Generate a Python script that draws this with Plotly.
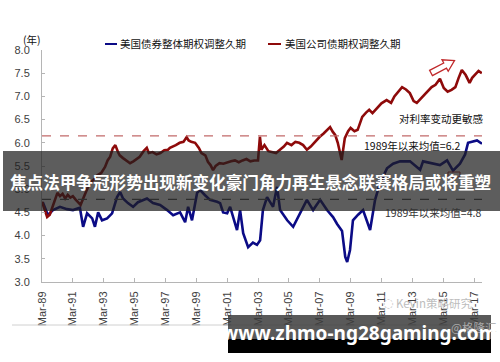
import plotly.graph_objects as go

# ---------------- data ----------------
corp_dates = ["1989-03-01","1989-05-01","1989-07-01","1989-09-01","1989-11-01","1990-01-01","1990-03-01","1990-05-01",
              "1990-07-01","1990-09-01","1990-11-01","1991-01-01","1991-03-01","1991-05-01","1991-07-01","1991-09-01",
              "1991-11-01","1992-01-01","1992-04-01","1992-07-01","1992-10-01","1993-01-01","1993-04-01","1993-06-01",
              "1993-08-01","1993-10-01","1993-12-01","1994-02-01","1994-03-15","1994-06-01","1994-09-01","1994-11-15",
              "1995-02-01","1995-05-01","1995-07-01","1995-10-01","1995-12-15","1996-02-01","1996-05-01","1996-08-01",
              "1996-11-01","1997-02-01","1997-05-01","1997-06-15","1997-09-01","1997-11-01","1998-02-01","1998-05-01",
              "1998-07-15","1998-09-01","1998-11-01","1999-02-01","1999-05-01","1999-07-01","1999-10-01","1999-12-01",
              "2000-02-01","2000-04-01","2000-06-01","2000-09-01","2000-12-01","2001-03-01","2001-06-01","2001-09-01",
              "2001-12-01","2002-03-01","2002-06-01","2002-09-01","2002-12-01","2003-03-01","2003-04-15","2003-05-20",
              "2003-08-01","2003-11-01","2004-02-01","2004-05-01","2004-08-01","2004-11-01","2005-01-15","2005-05-01",
              "2005-08-01","2005-11-01","2006-02-01","2006-05-01","2006-08-01","2006-10-15","2007-01-01","2007-03-01",
              "2007-06-01","2007-09-01","2007-11-01","2008-01-01","2008-03-01","2008-05-01","2008-08-01","2008-10-15",
              "2009-01-01","2009-03-01","2009-06-01","2009-08-15","2009-12-01","2010-03-01","2010-05-15","2010-08-01",
              "2010-11-15","2011-03-01","2011-07-01","2011-10-15","2012-01-01","2012-03-01","2012-07-01","2012-10-01",
              "2013-01-01","2013-04-01","2013-06-15","2013-08-15","2013-11-01","2014-02-01","2014-06-01","2014-09-01",
              "2014-12-15","2015-03-15","2015-06-15","2015-09-15","2015-12-15","2016-03-01","2016-05-15","2016-08-15",
              "2016-11-15","2017-01-15","2017-03-15","2017-06-15","2017-09-01"]
corp_values = [4.73,4.55,4.40,4.45,4.62,4.80,4.92,4.85,
               4.90,4.80,4.88,4.82,4.85,4.78,4.72,4.66,
               4.80,4.95,5.13,5.20,5.30,5.35,5.48,5.62,
               5.70,5.88,5.95,5.80,5.73,5.67,5.60,5.56,
               5.60,5.65,5.70,5.82,5.89,5.78,5.80,5.75,
               5.78,5.84,5.85,5.89,5.92,5.95,6.00,6.02,
               6.12,6.05,6.02,6.00,5.89,5.78,5.73,5.59,
               5.52,5.41,5.50,5.56,5.55,5.58,5.60,5.62,
               5.58,5.62,5.65,5.60,5.62,5.62,6.13,5.85,
               5.95,5.82,5.80,5.78,5.85,5.92,6.00,5.95,
               6.02,6.00,5.95,5.85,5.92,6.00,6.08,6.13,
               6.20,6.28,6.34,6.24,6.17,6.00,5.63,6.10,
               6.25,6.32,6.25,6.28,6.56,6.65,6.71,6.64,
               6.75,6.85,6.92,6.86,7.00,7.07,7.20,7.15,
               7.07,6.90,6.86,6.92,7.00,7.07,7.20,7.25,
               7.38,7.18,7.10,7.14,7.20,7.40,7.57,7.46,
               7.29,7.40,7.46,7.55,7.50]

agg_dates = ["1989-03-20","1989-07-20","1989-11-15","1990-05-01","1990-10-15","1991-03-05","1991-08-15","1991-10-30",
             "1992-02-01","1992-06-01","1992-08-05","1992-10-20","1993-01-20","1993-05-20","1993-09-15","1994-01-10",
             "1994-03-25","1994-06-01","1994-09-25","1995-01-25","1995-05-20","1995-12-20","1996-05-10","1996-10-25",
             "1997-04-10","1997-08-30","1998-02-10","1998-06-10","1998-08-20","1998-11-20","1999-03-20","1999-05-30",
             "1999-09-25","2000-01-20","2000-07-05","2000-09-15","2000-11-25","2001-03-01","2001-05-10","2001-07-20",
             "2001-10-20","2002-01-01","2002-03-15","2002-07-10","2002-11-01","2003-02-05","2003-04-20","2003-06-25",
             "2003-10-01","2004-02-20","2004-05-25","2004-08-05","2005-01-20","2005-06-10","2005-11-20","2006-05-01",
             "2006-09-25","2007-03-10","2007-08-20","2008-01-10","2008-04-15","2008-08-10","2008-10-25","2008-12-10",
             "2009-02-15","2009-04-25","2009-08-25","2009-12-20","2010-06-05","2010-10-01","2011-01-25","2011-07-10",
             "2011-12-01","2012-05-15","2013-01-05","2013-09-01","2013-11-10","2014-07-05","2014-12-15","2015-06-01",
             "2015-10-20","2016-04-01","2016-08-01","2016-10-10","2017-02-05","2017-05-10","2017-09-05"]
agg_values = [4.72,4.44,4.55,4.62,4.57,4.55,4.60,4.19,
              4.48,4.37,4.19,4.50,4.33,4.37,4.48,4.83,
              4.94,4.80,4.70,4.62,4.72,4.80,4.70,4.66,
              4.55,4.44,4.50,4.29,4.62,4.33,4.92,4.98,
              4.87,4.77,4.73,4.70,4.50,4.48,4.62,4.40,
              4.12,4.55,4.05,3.75,3.85,3.80,3.90,4.55,
              4.83,4.62,5.05,4.55,4.33,4.19,4.48,4.77,
              4.55,4.77,4.55,4.40,4.25,4.10,3.54,3.43,
              3.69,4.33,4.45,4.55,4.12,4.77,5.13,5.45,
              5.55,5.60,5.60,5.42,5.60,5.56,5.52,5.62,
              5.40,5.55,5.75,6.00,6.03,6.05,5.98]

mean_values = [6.15, 4.78]   # corporate mean, aggregate mean (as drawn)

tick_dates = ["1989-03-01","1991-03-01","1993-03-01","1995-03-01","1997-03-01","1999-03-01","2001-03-01",
              "2003-03-01","2005-03-01","2007-03-01","2009-03-01","2011-03-01","2013-03-01","2015-03-01","2017-03-01"]
tick_labels = ["Mar-89","Mar-91","Mar-93","Mar-95","Mar-97","Mar-99","Mar-01",
               "Mar-03","Mar-05","Mar-07","Mar-09","Mar-11","Mar-13","Mar-15","Mar-17"]
y_ticks = [3.0, 3.5, 4.0, 4.5, 5.0, 5.5, 6.0, 6.5, 7.0, 7.5, 8.0]

series_names = ["美国债券整体期权调整久期", "美国公司债期权调整久期"]
BLUE = "#0b0b86"
RED = "#8e0a0a"

# ---------------- layout geometry ----------------
W, H = 500, 362
L, R, T, B = 42, 482, 50, 282


def px(x):
    return (x - L) / (R - L)


def py(y):
    return (B - y) / (B - T)


fig = go.Figure()
fig.add_trace(go.Scatter(x=agg_dates, y=agg_values, mode="lines", name=series_names[0],
                         line=dict(color=BLUE, width=2.6), showlegend=False))
fig.add_trace(go.Scatter(x=corp_dates, y=corp_values, mode="lines", name=series_names[1],
                         line=dict(color=RED, width=2.6), showlegend=False))

shapes = []
# mean dashed lines
shapes.append(dict(type="line", xref="paper", yref="y", x0=0, x1=1, y0=mean_values[0], y1=mean_values[0],
                   line=dict(color="#c26a6a", width=1.2, dash="dash"), layer="above"))
shapes.append(dict(type="line", xref="paper", yref="y", x0=0, x1=1, y0=mean_values[1], y1=mean_values[1],
                   line=dict(color="#555555", width=1.2, dash="dash"), layer="above"))
# legend line samples
shapes.append(dict(type="line", xref="paper", yref="paper", x0=px(105), x1=px(117), y0=py(44), y1=py(44),
                   line=dict(color=BLUE, width=2)))
shapes.append(dict(type="line", xref="paper", yref="paper", x0=px(268), x1=px(281), y0=py(44), y1=py(44),
                   line=dict(color=RED, width=2)))
# hollow arrow
arrow_pts = [(432.4, 75.6), (446.5, 68.1), (448.2, 71.2), (454.5, 60.5), (442.0, 59.8), (443.7, 63.0), (429.6, 70.4)]
path = "M " + " L ".join(f"{px(a):.4f},{py(b):.4f}" for a, b in arrow_pts) + " Z"
shapes.append(dict(type="path", xref="paper", yref="paper", path=path,
                   line=dict(color="#c0282a", width=1.3), fillcolor="white"))
# small red box
shapes.append(dict(type="rect", xref="paper", yref="paper", x0=px(448), x1=px(460), y0=py(177), y1=py(172),
                   line=dict(color="#b03030", width=1), fillcolor="rgba(0,0,0,0)"))
# faint frame line
shapes.append(dict(type="line", xref="paper", yref="paper", x0=px(12), x1=px(491), y0=py(325), y1=py(325),
                   line=dict(color="#d0d0d0", width=1)))
# middle banner
shapes.append(dict(type="rect", xref="paper", yref="paper", x0=px(3), x1=px(500), y0=py(211), y1=py(151),
                   line=dict(width=0), fillcolor="rgba(30,30,30,0.72)", layer="above"))
# bottom banner
shapes.append(dict(type="rect", xref="paper", yref="paper", x0=px(228), x1=px(491), y0=py(339), y1=py(315),
                   line=dict(width=0), fillcolor="rgba(60,60,60,0.85)", layer="above"))
shapes.append(dict(type="rect", xref="paper", yref="paper", x0=px(228), x1=px(491), y0=py(353), y1=py(339),
                   line=dict(width=0), fillcolor="#000000", layer="above"))

CJK = "Noto Sans CJK SC"
ann = []


def text(x, y, s, size, color="#111111", anchor="left", family=CJK):
    ann.append(dict(xref="paper", yref="paper", x=px(x), y=py(y), text=s, showarrow=False,
                    xanchor=anchor, yanchor="middle", font=dict(family=family, size=size, color=color)))


text(118, 44, series_names[0], 10.5)
text(283, 44, series_names[1], 10.5)
text(21, 40, "(年)", 10.5)
text(397, 118, "对利率变动更敏感", 10.5)
text(362, 145, f"1989年以来均值={6.2}", 10.5)
text(383, 212, f"1989年以来均值={4.8}", 10.5, color="#333333")
# watermarks
text(381, 303, "◌", 12, color="#c8c8c8", family="DejaVu Sans")
text(394, 303, "Kevin策略研究", 11.5, color="#bdbdbd")
text(449, 327, "@格隆汇", 11.5, color="#a8a8a8")
# banners text
text(250, 182, "<b>焦点法甲争冠形势出现新变化豪门角力再生悬念联赛格局或将重塑</b>", 16.6, color="white", anchor="center")
text(359, 333, "<b>www.zhmo-ng28gaming.com</b>", 19, color="white", anchor="center", family="Noto Sans")

fig.update_layout(
    width=W, height=H,
    margin=dict(l=L, r=W - R, t=T, b=H - B),
    paper_bgcolor="white", plot_bgcolor="white",
    shapes=shapes, annotations=ann,
    font=dict(family="Liberation Sans", size=11, color="#404040"),
)
fig.update_xaxes(type="date", range=["1989-03-01", "2017-09-05"], tickvals=tick_dates, ticktext=tick_labels,
                 tickangle=-90, showline=True, linecolor="#b5b5b5", linewidth=1, showgrid=False, zeroline=False,
                 ticks="inside", ticklen=4, tickcolor="#b5b5b5", ticklabelstandoff=4,
                 tickfont=dict(family="Liberation Sans", size=11, color="#404040"))
fig.update_yaxes(range=[3, 8], tickvals=y_ticks, tickformat=".1f", showline=True, linecolor="#b5b5b5",
                 linewidth=1, showgrid=False, zeroline=False, ticks="inside", ticklen=3, tickcolor="#b5b5b5",
                 ticklabelstandoff=9, tickfont=dict(family="Liberation Sans", size=11, color="#404040"))

fig.write_html("out.html")
